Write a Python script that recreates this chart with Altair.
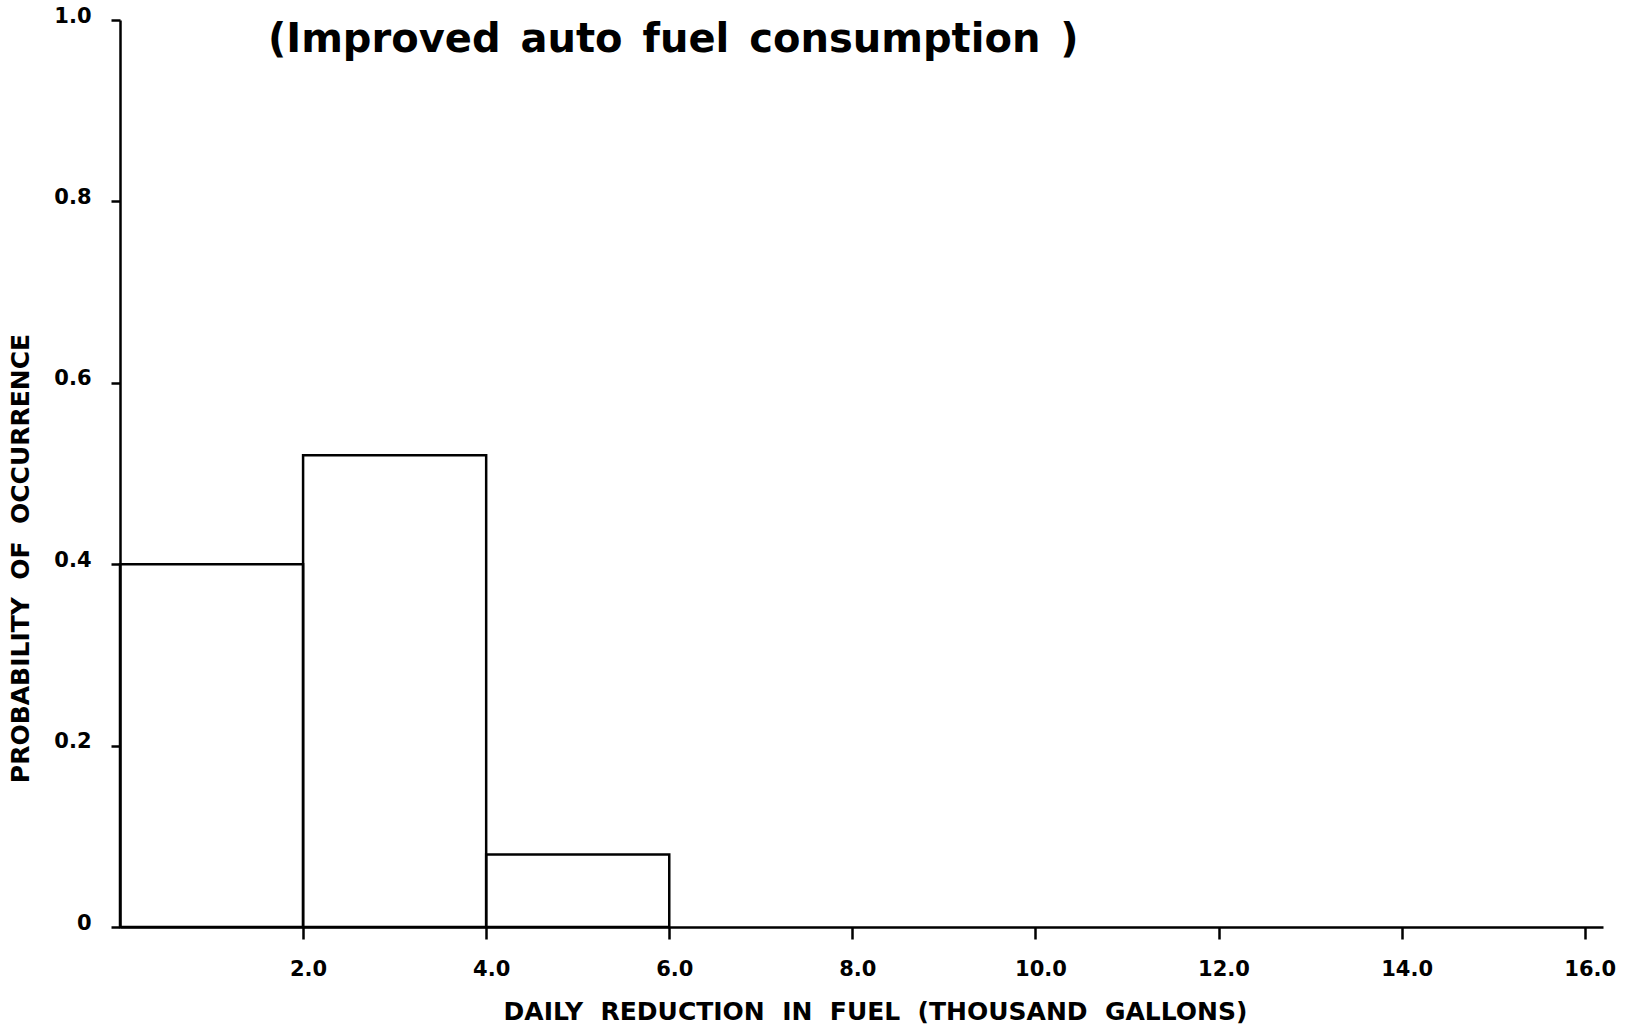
import altair as alt
import pandas as pd

# Histogram bins (thousand gallons) and their probabilities
bin_start = [0.0, 2.0, 4.0]
bin_end = [2.0, 4.0, 6.0]
probability = [0.40, 0.52, 0.08]

x_ticks = [2.0, 4.0, 6.0, 8.0, 10.0, 12.0, 14.0, 16.0]
y_ticks = [0.0, 0.2, 0.4, 0.6, 0.8, 1.0]

df = pd.DataFrame({"start": bin_start, "end": bin_end, "p": probability})

FONT = "DejaVu Sans"
GAP = "\u00a0" * 2  # wide word spacing for the axis titles


def spaced(words, gap):
    return gap.join(words)


x_title = spaced(["DAILY", "REDUCTION", "IN", "FUEL", "(THOUSAND", "GALLONS)"], GAP)
y_title = spaced(["PROBABILITY", "OF", "OCCURRENCE"], GAP)
chart_title = spaced(["(Improved", "auto", "fuel", "consumption", ")"], "\u2002")

bars = alt.Chart(df).mark_rect(
    fill="white", fillOpacity=0, stroke="black", strokeWidth=2.5
).encode(
    x=alt.X(
        "start:Q",
        scale=alt.Scale(domain=[0, 16.2], nice=False, zero=True),
        axis=alt.Axis(
            values=x_ticks,
            format=".1f",
            title=x_title,
            titleX=755,
            titleY=84,
            titleBaseline="middle",
            titleAlign="center",
            labelOffset=5,
            tickSize=12,
            labelPadding=19,
        ),
    ),
    x2="end:Q",
    y=alt.Y(
        "p:Q",
        scale=alt.Scale(domain=[0, 1], nice=False),
        axis=alt.Axis(
            values=y_ticks,
            labelExpr="datum.value == 0 ? '0' : format(datum.value, '.1f')",
            title=y_title,
            titleX=-100,
            titleY=538,
            titleAngle=270,
            titleAlign="center",
            titleBaseline="middle",
            tickSize=9,
            labelPadding=20,
            labelOffset=-4,
        ),
    ),
    y2=alt.datum(0),
)

chart = bars.properties(
    width=1483,
    height=907,
    padding={"left": 120, "top": 20, "right": 25, "bottom": 98},
    autosize=alt.AutoSizeParams(type="none"),
    title=alt.TitleParams(
        chart_title,
        anchor="start",
        frame="group",
        dx=148,
        dy=75,
        baseline="middle",
        font=FONT,
        fontSize=40,
        fontWeight="bold",
        color="black",
        offset=0,
    ),
).configure(
    background="white"
).configure_view(
    stroke=None
).configure_axis(
    domainColor="black",
    domainWidth=2.5,
    tickColor="black",
    tickWidth=2.5,
    grid=False,
    labelFont=FONT,
    labelFontSize=21,
    labelFontWeight="bold",
    labelColor="black",
    titleFont=FONT,
    titleFontSize=25,
    titleFontWeight="bold",
    titleColor="black",
    labelFlush=False,
    labelOverlap=False,
)

chart.save("out.html", embed_options={"renderer": "svg", "actions": False})
